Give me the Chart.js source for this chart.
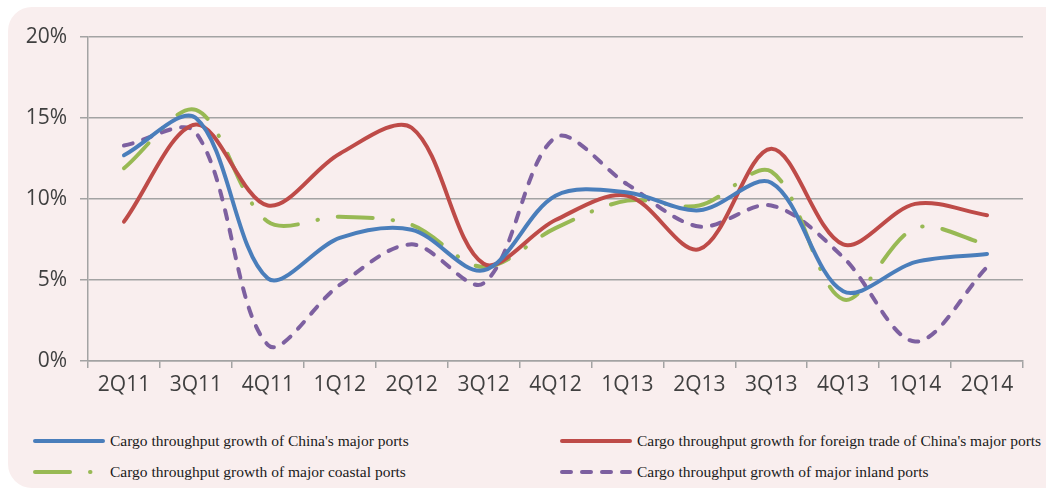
<!DOCTYPE html>
<html>
<head>
<meta charset="utf-8">
<title>Cargo throughput growth</title>
<script src="https://cdn.jsdelivr.net/npm/chart.js@4/dist/chart.umd.min.js"></script>
<style>
  html, body { margin: 0; padding: 0; background: #ffffff; }
  body { width: 1046px; height: 498px; position: relative; overflow: hidden; }
  #panel {
    position: absolute; left: 8px; top: 7px; width: 1038px; height: 481px;
    background: #f9eeee; border-radius: 24px 0 0 24px;
  }
  #chart { position: absolute; left: 0; top: 0; }
  .legend-item {
    position: absolute; height: 20px; display: flex; align-items: center;
    font-family: "Liberation Serif", "Times New Roman", serif; font-size: 15.5px; color: #1a1a1a;
    white-space: nowrap;
  }
  .legend-item svg { margin-right: 5px; }
</style>
</head>
<body>
<div id="panel"></div>
<canvas id="chart" width="1046" height="400"></canvas>
<div id="legend"></div>
<script>
// Quarters on the x axis
const quarters = ['2Q11', '3Q11', '4Q11', '1Q12', '2Q12', '3Q12', '4Q12', '1Q13', '2Q13', '3Q13', '4Q13', '1Q14', '2Q14'];

// Growth rates, %
const majorPorts   = [12.7, 15.0, 5.1, 7.6, 8.1, 5.6, 10.2, 10.4, 9.3, 11.0, 4.3, 6.1, 6.6];
const foreignTrade = [8.6, 14.6, 9.6, 12.8, 14.4, 6.0, 8.7, 10.2, 6.9, 13.1, 7.2, 9.7, 9.0];
const coastalPorts = [11.9, 15.5, 8.6, 8.9, 8.4, 5.8, 8.2, 9.9, 9.6, 11.7, 3.8, 8.2, 7.2];
const inlandPorts  = [13.3, 14.1, 1.0, 4.7, 7.2, 4.8, 13.8, 10.9, 8.3, 9.6, 6.4, 1.2, 5.8];

const yTicks = [0, 5, 10, 15, 20];

const seriesNames = [
    "Cargo throughput growth of China's major ports",
    "Cargo throughput growth for foreign trade of China's major ports",
    "Cargo throughput growth of major coastal ports",
    "Cargo throughput  growth of major inland ports"
];

const gridColor = '#a3a3a3';
const tickFont = { family: '"Open Sans", sans-serif', size: 21 };

function line(label, data, color, dash) {
    return {
        label: label,
        data: data,
        borderColor: color,
        backgroundColor: color,
        borderWidth: 4,
        borderDash: dash,
        borderCapStyle: 'round',
        pointRadius: 0,
        tension: 0.33,
        fill: false
    };
}

const datasets = [
    line(seriesNames[0], majorPorts, '#4a7ebb', []),
    line(seriesNames[1], foreignTrade, '#be4b48', []),
    line(seriesNames[2], coastalPorts, '#98b954', [35, 20, 0.5, 20]),
    line(seriesNames[3], inlandPorts, '#7d60a0', [9, 11])
];

// draw order: inland at the back, major ports on top
datasets[3].order = 4;
datasets[2].order = 3;
datasets[1].order = 2;
datasets[0].order = 1;

new Chart(document.getElementById('chart'), {
    type: 'line',
    data: { labels: quarters, datasets: datasets },
    options: {
        responsive: false,
        animation: false,
        layout: { padding: { top: 37, right: 23, left: 0, bottom: 0 } },
        plugins: {
            legend: { display: false },
            tooltip: { enabled: false }
        },
        scales: {
            x: {
                offset: true,
                afterFit: function(scale) { scale.height = 39; },
                grid: {
                    offset: true,
                    drawOnChartArea: false,
                    drawTicks: true,
                    tickLength: 7,
                    color: gridColor,
                    lineWidth: 1.5
                },
                border: { display: true, color: gridColor, width: 1.5 },
                ticks: { font: tickFont, color: '#404040', padding: 4, maxRotation: 0, autoSkip: false }
            },
            y: {
                min: yTicks[0],
                max: yTicks[yTicks.length - 1],
                afterFit: function(scale) { scale.width = 88; },
                afterBuildTicks: function(scale) {
                    scale.ticks = yTicks.map(v => ({ value: v }));
                },
                grid: {
                    color: gridColor,
                    lineWidth: 1.5,
                    drawTicks: true,
                    tickLength: 8
                },
                border: { display: true, color: gridColor, width: 1.5 },
                ticks: {
                    font: tickFont,
                    color: '#404040',
                    padding: 13,
                    callback: v => v + '%'
                }
            }
        }
    }
});

// Two-column legend under the plot
const legendPos = [
    { left: 33, top: 431 },
    { left: 560, top: 431 },
    { left: 33, top: 462 },
    { left: 560, top: 462 }
];
const legend = document.getElementById('legend');
datasets.forEach((ds, i) => {
    const item = document.createElement('div');
    item.className = 'legend-item';
    item.style.left = legendPos[i].left + 'px';
    item.style.top = legendPos[i].top + 'px';
    const dash = ds.borderDash.length ? ds.borderDash.join(' ') : 'none';
    item.innerHTML =
        '<svg width="72" height="8"><line x1="2" y1="4" x2="70" y2="4" stroke="' + ds.borderColor +
        '" stroke-width="4" stroke-linecap="round" stroke-dasharray="' + dash + '"/></svg>' +
        '<span>' + ds.label + '</span>';
    legend.appendChild(item);
});
</script>
</body>
</html>
